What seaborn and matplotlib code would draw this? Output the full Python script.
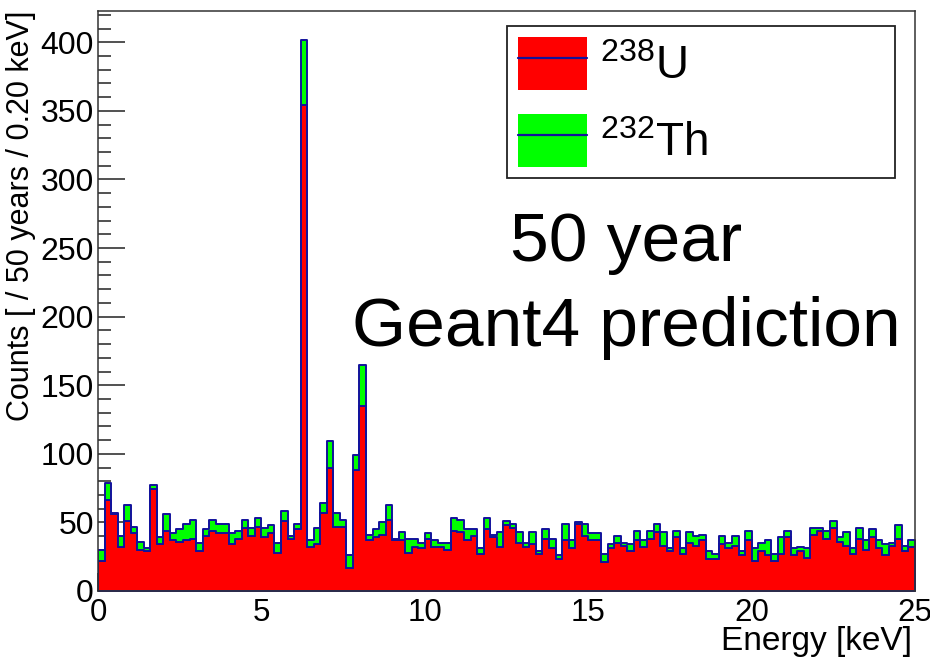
import numpy as np
import pandas as pd
import matplotlib
matplotlib.use("Agg")
import matplotlib.pyplot as plt
from matplotlib.patches import Patch
from matplotlib.lines import Line2D
from matplotlib.ticker import MultipleLocator
import seaborn as sns

# ---- data (0.2 keV bins from 0 to 25 keV) ----
e_min, e_max, n_bins = 0.0, 25.0, 125
total_counts = [30, 79, 57, 40, 63, 47, 36, 31, 77, 39,
                56, 42, 45, 49, 52, 35, 45, 52, 49, 49,
                42, 44, 52, 46, 53, 46, 48, 35, 58, 40,
                49, 402, 37, 46, 64, 109, 57, 52, 26, 99,
                165, 41, 45, 50, 63, 38, 43, 38, 38, 35,
                42, 37, 35, 35, 53, 52, 45, 45, 31, 53,
                41, 43, 51, 49, 43, 35, 43, 29, 45, 38,
                26, 49, 37, 50, 49, 42, 42, 27, 34, 40,
                35, 34, 44, 37, 44, 49, 43, 31, 44, 31,
                43, 40, 41, 29, 27, 40, 35, 40, 29, 44,
                31, 35, 37, 27, 39, 44, 31, 32, 31, 46,
                46, 44, 51, 39, 43, 31, 46, 37, 45, 37,
                34, 35, 48, 33, 37]
u238_counts = [22, 66, 56, 32, 51, 42, 30, 29, 74, 34,
               44, 37, 36, 37, 38, 29, 40, 44, 42, 42,
               34, 38, 46, 40, 47, 39, 42, 28, 51, 38,
               45, 354, 32, 34, 57, 90, 47, 47, 17, 88,
               135, 37, 39, 41, 52, 37, 37, 28, 32, 31,
               38, 32, 32, 30, 44, 43, 37, 40, 27, 45,
               39, 32, 48, 46, 35, 32, 34, 27, 38, 31,
               23, 37, 31, 49, 40, 37, 37, 21, 31, 35,
               33, 29, 37, 32, 38, 43, 33, 29, 39, 27,
               35, 33, 37, 23, 23, 34, 31, 33, 26, 37,
               22, 29, 26, 22, 27, 39, 26, 29, 24, 41,
               44, 38, 46, 36, 33, 27, 38, 30, 39, 31,
               26, 33, 38, 29, 32]
th232_counts = [t - u for t, u in zip(total_counts, u238_counts)]
labels = [r"$\mathrm{^{238}U}$", r"$\mathrm{^{232}Th}$"]
x_ticks = [0, 5, 10, 15, 20, 25]
y_ticks = [0, 50, 100, 150, 200, 250, 300, 350, 400]

bw = (e_max - e_min) / n_bins
centers = e_min + bw * (np.arange(n_bins) + 0.5)
df = pd.DataFrame({
    "energy": np.concatenate([centers, centers]),
    "counts": np.concatenate([u238_counts, th232_counts]).astype(float),
    "iso": ["U238"] * n_bins + ["Th232"] * n_bins,
})

sns.set_theme(style="white")
plt.rcParams["font.family"] = ["Liberation Sans", "DejaVu Sans"]
plt.rcParams["mathtext.fontset"] = "custom"
plt.rcParams["mathtext.rm"] = "Liberation Sans"
plt.rcParams["mathtext.it"] = "Liberation Sans:italic"
plt.rcParams["mathtext.bf"] = "Liberation Sans:bold"
for k in ["text.color", "axes.labelcolor", "xtick.color", "ytick.color"]:
    plt.rcParams[k] = "black"

W, H = 930, 666
fig = plt.figure(figsize=(W / 100, H / 100), dpi=100)
ax = fig.add_axes([98 / W, (H - 591) / H, (915 - 98) / W, (591 - 11) / H])

edge_col = "#12129c"
sns.histplot(data=df, x="energy", weights="counts", hue="iso",
             hue_order=["Th232", "U238"], multiple="stack", element="step",
             bins=n_bins, binrange=(e_min, e_max),
             palette={"U238": "#ff0000", "Th232": "#00ff00"},
             alpha=1, edgecolor=edge_col, linewidth=1.4, legend=False, ax=ax)

ax.set_xlim(0, 25)
ax.set_ylim(0, 422.8)
ax.set_xticks(x_ticks)
ax.set_yticks(y_ticks)
ax.xaxis.set_minor_locator(MultipleLocator(1))
ax.yaxis.set_minor_locator(MultipleLocator(10))
ax.tick_params(axis="both", which="both", direction="in", color="#222222",
               width=1.1, labelsize=23, top=False, right=False,
               bottom=True, left=True)
ax.tick_params(axis="x", which="major", labelsize=22.5)
ax.tick_params(axis="y", which="major", length=19.5, pad=3)
ax.tick_params(axis="y", which="minor", length=9.5)
ax.tick_params(axis="x", which="major", length=13, pad=5)
ax.tick_params(axis="x", which="minor", length=6.5)
for s in ax.spines.values():
    s.set_visible(True)
    s.set_color("#333333")
    s.set_linewidth(1.1)

ax.set_xlabel("Energy [keV]", fontsize=24, loc="right")
ax.xaxis.set_label_coords(1.0 - 3 / 817, -35 / 580)
ax.xaxis.label.set_va("top")
ax.set_ylabel("Counts [ / 50 years / 0.20 keV]", fontsize=22, loc="top")
ax.yaxis.set_label_coords((36 - 98) / 817, 1.0)
ax.yaxis.label.set_va("bottom")

handles = [
    (Patch(facecolor="#ff0000", edgecolor="none"), Line2D([], [], color=edge_col, lw=1.6)),
    (Patch(facecolor="#00ff00", edgecolor="none"), Line2D([], [], color=edge_col, lw=1.6)),
]
fs_leg = 33
fpx = fs_leg * 100 / 72
leg = ax.legend(handles, labels, loc="upper left",
                bbox_to_anchor=(507 / W, 1 - 25.7 / H, (895 - 507) / W, 0),
                bbox_transform=fig.transFigure, mode="expand", borderaxespad=0,
                fontsize=fs_leg, frameon=True, fancybox=False, framealpha=1,
                handlelength=69 / fpx, handleheight=1.39,
                handletextpad=13 / fpx, borderpad=0.25, labelspacing=0.53)
leg.get_frame().set_edgecolor("#222222")
leg.get_frame().set_linewidth(1.3)

fig.text(626 / W, 1 - 261 / H, "50 year", fontsize=50, ha="center", va="baseline")
fig.text(626 / W, 1 - 346 / H, "Geant4 prediction", fontsize=50, ha="center", va="baseline")

fig.savefig("out.png", dpi=100)
